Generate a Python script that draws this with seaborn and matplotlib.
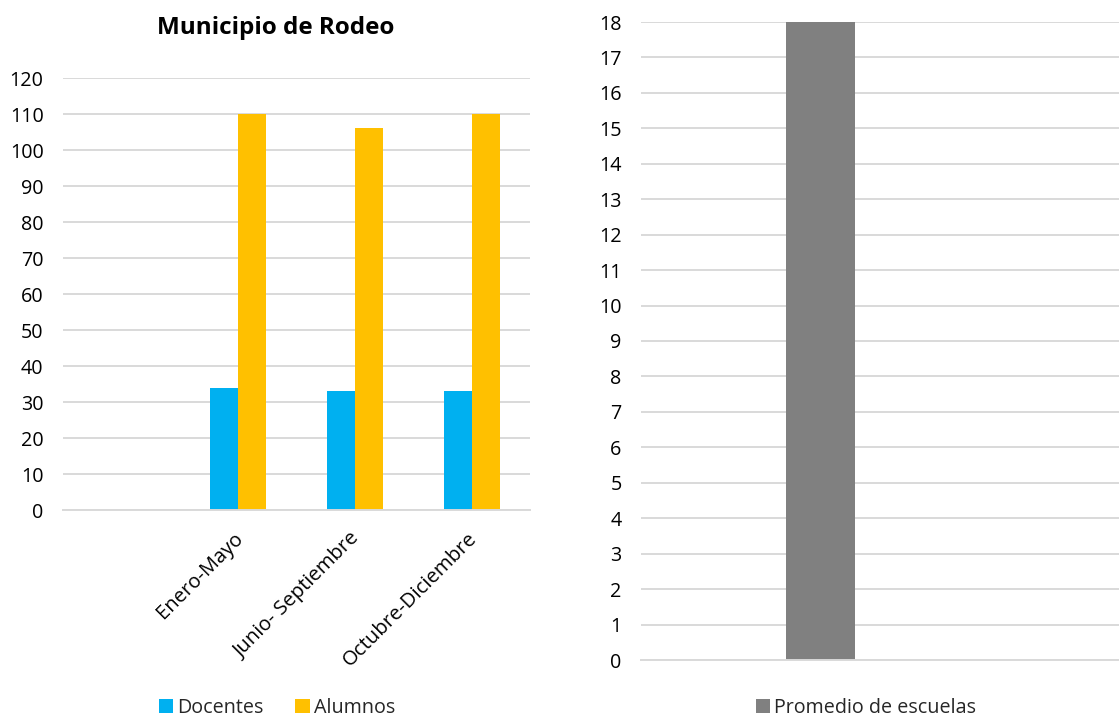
import matplotlib
matplotlib.use("Agg")
import matplotlib.pyplot as plt
import matplotlib.transforms as mtransforms
import seaborn as sns
import pandas as pd

# Left chart: staff and students per period
periods = ["", "Enero-Mayo", "Junio- Septiembre", "Octubre-Diciembre"]
docentes = [34, 33, 33]
alumnos = [110, 106, 110]
series_left = ["Docentes", "Alumnos"]

# Right chart: average number of schools
promedio_label = "Promedio de escuelas"
promedio = [18]

sns.set_theme(style="white")
plt.rcParams["font.family"] = ["Open Sans", "DejaVu Sans"]

GRID = "#D9D9D9"
TEXT = "#000000"
FS = 14.2

df_left = pd.DataFrame({
    "Periodo": periods[1:] * 2,
    "Serie": ["Docentes"] * 3 + ["Alumnos"] * 3,
    "Valor": docentes + alumnos,
})
df_right = pd.DataFrame({
    "Cat": [""],
    "Serie": [promedio_label],
    "Valor": promedio,
})

fig = plt.figure(figsize=(11.19, 7.23), dpi=100)
ax1 = fig.add_axes([63 / 1119, 1 - 510 / 723, 467 / 1119, 432 / 723])
ax2 = fig.add_axes([641 / 1119, 1 - 660 / 723, 478 / 1119, 638 / 723])

sns.barplot(data=df_left, x="Periodo", y="Valor", hue="Serie",
            order=periods, hue_order=series_left,
            palette=["#00B0F0", "#FFC000"], width=0.48, gap=0,
            saturation=1, linewidth=0, edgecolor="none", ax=ax1, zorder=3)
sns.barplot(data=df_right, x="Cat", y="Valor", hue="Serie",
            palette=["#808080"], width=0.8, saturation=1,
            linewidth=0, edgecolor="none", ax=ax2, zorder=3)

ax1.set_ylim(0, 120)
ax1.set_yticks(range(0, 121, 10))
ax1.set_xlim(-0.5, 3.5)
ax2.set_ylim(0, 18)
ax2.set_yticks(range(0, 19, 1))
ax2.set_xlim(-2.081, 3.461)

for ax in (ax1, ax2):
    ax.set_xlabel("")
    ax.set_ylabel("")
    ax.grid(axis="y", color=GRID, linewidth=1.4, zorder=0)
    ax.grid(axis="x", visible=False)
    for s in ("top", "right", "left"):
        ax.spines[s].set_visible(False)
    ax.spines["bottom"].set_color(GRID)
    ax.spines["bottom"].set_linewidth(1.4)
    ax.spines["bottom"].set_zorder(4)
    ax.tick_params(axis="y", length=0, pad=14, labelsize=FS, labelcolor=TEXT)
    ax.tick_params(axis="x", length=0, labelcolor=TEXT)

ax1.set_xticks(range(len(periods)))
ax1.set_xticklabels(periods, rotation=45, ha="right", va="top",
                    rotation_mode="anchor", fontsize=FS + 0.4)
ax1.tick_params(axis="x", pad=13)
# nudge the slanted period labels slightly to the left
shift = mtransforms.ScaledTranslation(-5 / 100, -1 / 100, fig.dpi_scale_trans)
for lbl in ax1.get_xticklabels():
    lbl.set_transform(lbl.get_transform() + shift)
ax2.set_xticks([])

fig.text(276 / 1119, 1 - 28 / 723, "Municipio de Rodeo", ha="center",
         va="center", fontsize=17.5, fontweight="bold", color=TEXT)

sns.move_legend(ax1, "center", bbox_to_anchor=(277 / 1119, 15 / 723),
                bbox_transform=fig.transFigure, ncol=2, frameon=False,
                title=None, fontsize=FS, handlelength=0.75,
                handleheight=0.75, handletextpad=0.2, columnspacing=1.6)
sns.move_legend(ax2, "center", bbox_to_anchor=(866 / 1119, 15 / 723),
                bbox_transform=fig.transFigure, ncol=1, frameon=False,
                title=None, fontsize=FS, handlelength=0.75,
                handleheight=0.75, handletextpad=0.2)

fig.savefig("out.png", dpi=100, facecolor="white")
